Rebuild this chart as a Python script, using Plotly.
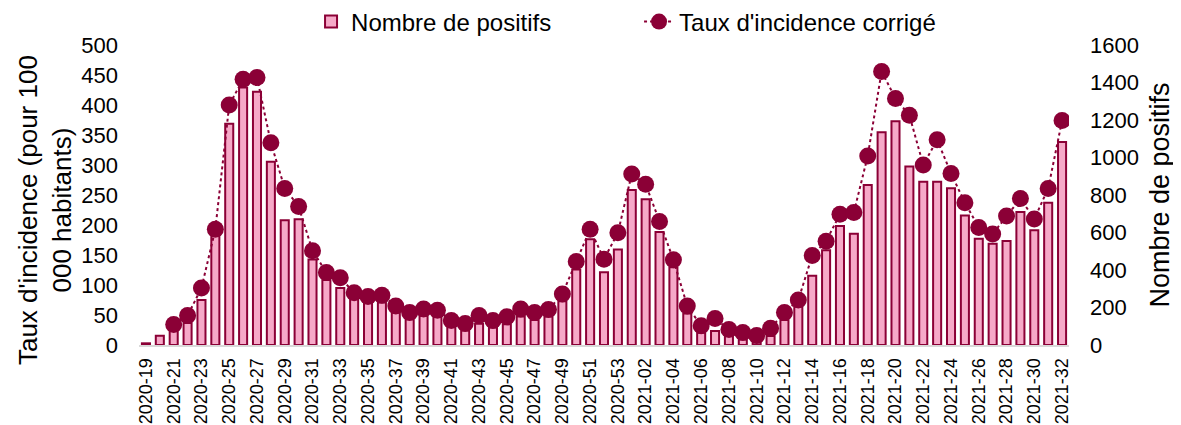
import plotly.graph_objects as go

weeks_2020 = [f"2020-{w:02d}" for w in range(19, 54)]
weeks_2021 = [f"2021-{w:02d}" for w in range(1, 33)]
categories = weeks_2020 + weeks_2021

positifs = [9, 50, 75, 118, 240, 585, 1180, 1373, 1351, 977, 666, 671, 456, 347, 304, 245,
            227, 227, 174, 138, 156, 150, 97, 77,
            114, 93, 111, 152, 133, 152, 233, 403, 564, 388, 510, 827, 778, 603, 415, 168,
            66, 75, 48, 30, 13, 48, 133, 205,
            370, 505, 635, 594, 854, 1135, 1194, 952, 871, 871, 836, 691, 567, 540, 555,
            710, 612, 759, 1083]

taux = [None, None, 34, 49, 95, 193, 400, 443, 446, 337, 261, 231, 157, 121, 112, 87,
        81, 83, 65, 54, 60, 58, 41, 36,
        49, 41, 47, 60, 54, 59, 85, 139, 193, 143, 187, 285, 268, 206, 142, 65,
        32, 44, 26, 21, 16, 28, 54, 75,
        149, 173, 218, 221, 315, 456, 411, 383, 300, 342, 286, 237, 196, 185, 215,
        244, 210, 261, 374]

tick_labels = categories[::2]

DARK = "#8B0036"
PINK = "#F6A9C8"
FONT = "Liberation Sans, Arial, sans-serif"

fig = go.Figure()
fig.add_trace(go.Bar(
    x=categories, y=positifs, name="Nombre de positifs",
    marker=dict(color=PINK, line=dict(color=DARK, width=2)),
    yaxis="y",
))
fig.add_trace(go.Scatter(
    x=categories, y=taux, name="Taux d'incidence corrigé",
    mode="lines+markers",
    line=dict(color=DARK, width=2, dash="dot"),
    marker=dict(color=DARK, size=17),
    yaxis="y2",
))

fig.add_annotation(
    text="Taux d'incidence (pour 100<br>000 habitants)",
    xref="paper", yref="paper", x=-0.101, y=0.45,
    xanchor="center", yanchor="middle", textangle=-90, showarrow=False,
    font=dict(size=26, family=FONT, color="black"),
)

fig.update_layout(
    width=1181, height=425,
    margin=dict(l=131, r=120, t=37, b=88, autoexpand=False),
    paper_bgcolor="white", plot_bgcolor="white",
    font=dict(family=FONT, color="black"),
    bargap=0.42,
    showlegend=True,
    legend=dict(orientation="h", xref="container", x=0.2566, xanchor="left",
                yref="container", y=1 - 14 / 425, yanchor="middle",
                font=dict(size=24, family=FONT), entrywidth=283,
                traceorder="normal", bgcolor="rgba(0,0,0,0)"),
    xaxis=dict(
        type="category", range=[-0.5, len(categories) - 0.5],
        tickmode="array", tickvals=tick_labels, ticktext=tick_labels,
        tickangle=-90, tickfont=dict(size=18), showgrid=False,
        showline=True, linecolor="#d9d9d9", linewidth=2, ticks="",
        ticklabelstandoff=4, automargin=False,
    ),
    yaxis=dict(
        side="right", range=[0, 1600], dtick=200, showgrid=False, zeroline=False,
        tickfont=dict(size=22), ticklabelstandoff=20, automargin=False,
        title=dict(text="Nombre de positifs", font=dict(size=27), standoff=12),
    ),
    yaxis2=dict(
        side="left", overlaying="y", range=[0, 500], dtick=50, showgrid=False,
        zeroline=False, tickfont=dict(size=22), ticklabelstandoff=20, automargin=False,
    ),
)

fig.write_html("out.html")
